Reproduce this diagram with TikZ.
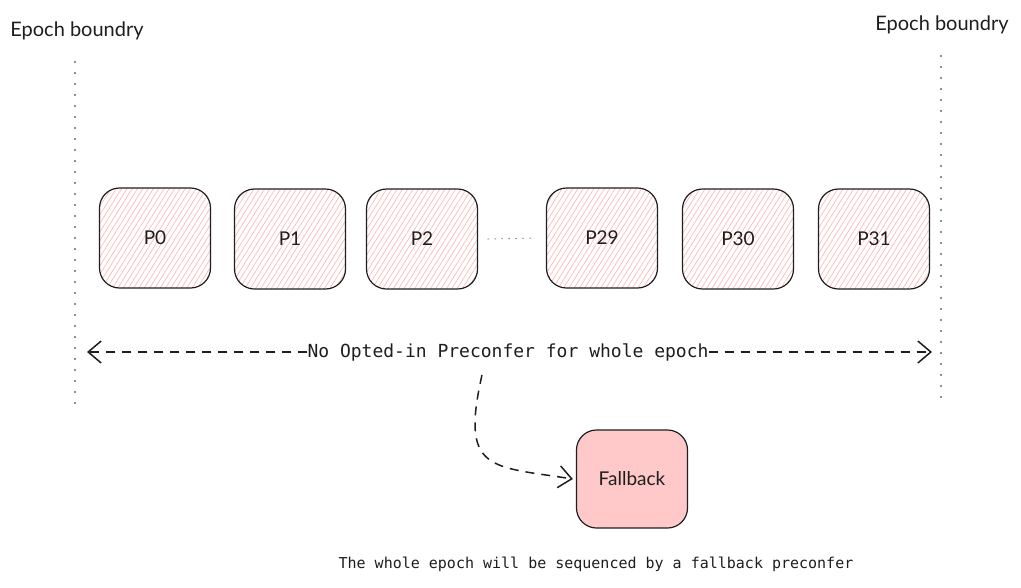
\documentclass[tikz,border=0pt]{standalone}
\usepackage{fontspec}
\setmainfont{Lato}
\newfontfamily\codefont{DejaVu Sans Mono}
\usetikzlibrary{arrows.meta, patterns.meta}
\definecolor{ink}{HTML}{1E1E1E}
\definecolor{rosefill}{HTML}{FFC9C9}
\definecolor{rosehatch}{HTML}{FFB8B8}

\begin{document}
\begin{tikzpicture}[x=1pt, y=-1pt, prop/.style={draw=ink, rounded corners=20, line width=1.2pt, minimum width=111pt, minimum height=100pt, font=\fontsize{19}{21}\selectfont, text=ink, pattern={Lines[angle=58, distance=4.5pt, line width=0.7pt]}, pattern color=rosehatch}, fb/.style={draw=ink, rounded corners=20, line width=1.2pt, fill=rosefill, minimum width=111pt, minimum height=98pt, font=\fontsize{19}{21}\selectfont, text=ink}, lbl/.style={font=\fontsize{20}{22}\selectfont, text=ink}, bound/.style={ink, line width=1.6pt, line cap=round, dash pattern=on 0pt off 11pt}, d/.style={-{Straight Barb[length=13pt, width=22pt]}, ink, line width=1.5pt, dash pattern=on 9pt off 7pt}]
            \useasboundingbox (0,0) rectangle (1021,587);
            % nodes
            \node[lbl] (leftlabel) at (77,31) {Epoch boundry};
            \node[lbl] (rightlabel) at (942,25) {Epoch boundry};

            \coordinate (lefttop) at (75,62);
            \coordinate (leftbot) at (75,410);
            \coordinate (righttop) at (941,56);
            \coordinate (rightbot) at (941,405);

            \node[prop] (p0) at (155,238) {P0};
            \node[prop] (p1) at (290,239) {P1};
            \node[prop] (p2) at (422,239) {P2};
            \node[prop] (p29) at (602,238) {P29};
            \node[prop] (p30) at (738,239) {P30};
            \node[prop] (p31) at (874,239) {P31};

            \node[inner sep=0pt, font=\fontsize{18}{20}\selectfont\codefont, text=ink] (epoch) at (508,352) {No Opted-in Preconfer for whole epoch};
            \coordinate (arrowleft) at (87,352);
            \coordinate (arrowright) at (932,352);
            \coordinate (down) at (482,375);

            \node[fb] (fallback) at (632,479) {Fallback};

            \node[font=\fontsize{15}{17}\selectfont\codefont, text=ink] (note) at (596,564) {The whole epoch will be sequenced by a fallback preconfer};
            % edges
            \draw[bound] (lefttop) -- (leftbot);
            \draw[bound] (righttop) -- (rightbot);

            \draw[ink, line width=1.2pt, line cap=round, dash pattern=on 0pt off 7pt] ([xshift=10pt]p2.east) -- ([xshift=-10pt]p29.west);

            \draw[d] (epoch.west) -- (arrowleft);
            \draw[d] (epoch.east) -- (arrowright);

            \draw[d] (down) .. controls (460,472) and (490,466) .. ([xshift=-3pt]fallback.west);
        \end{tikzpicture}
\end{document}
